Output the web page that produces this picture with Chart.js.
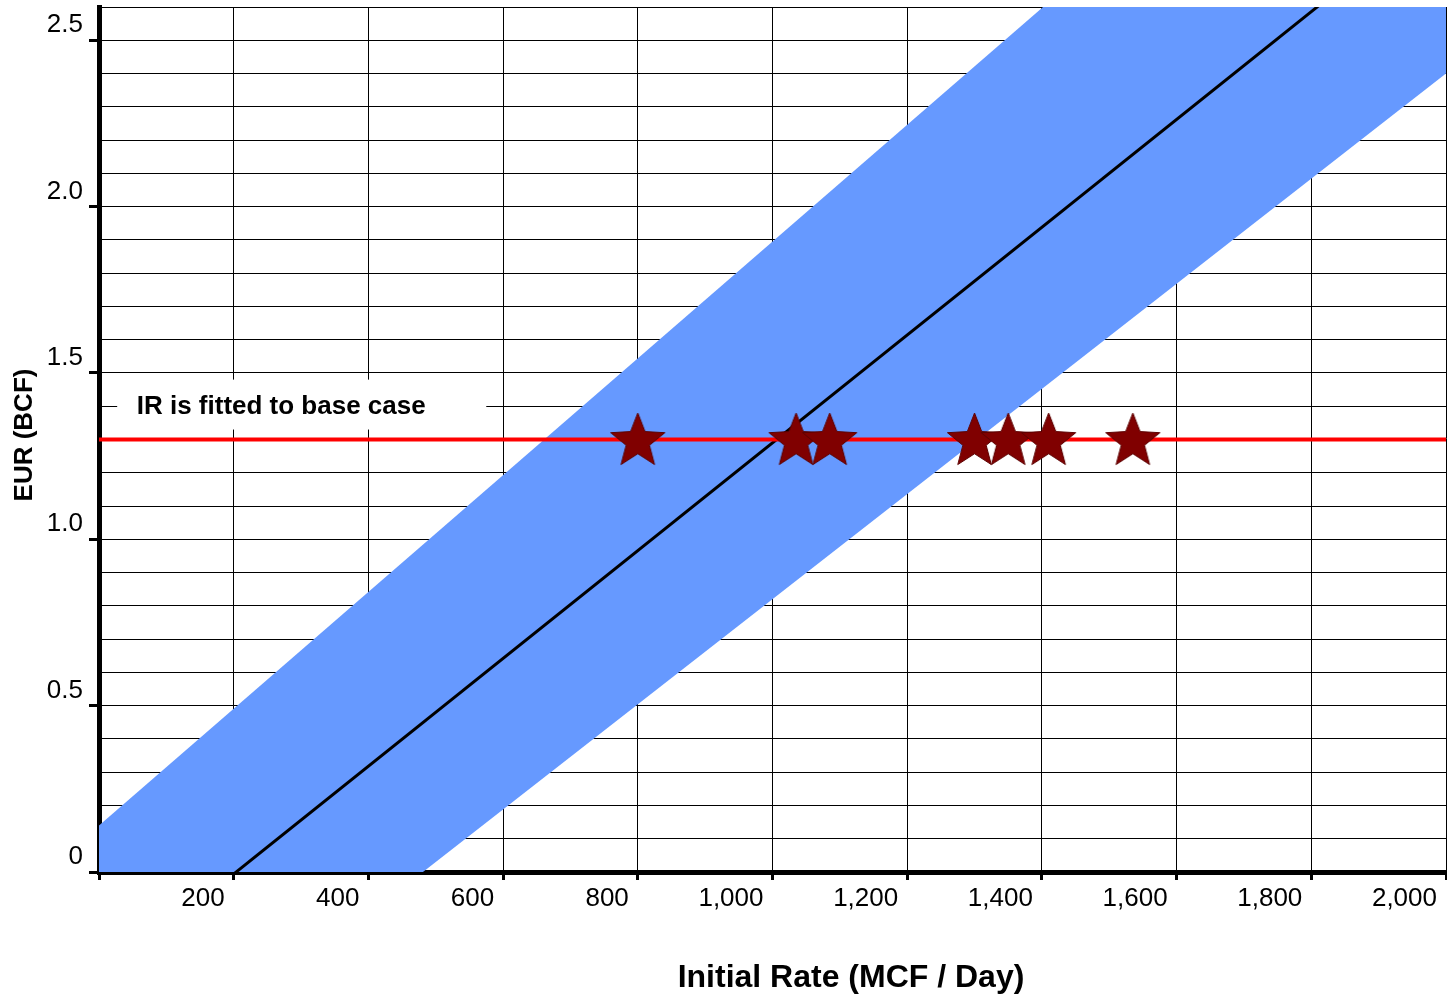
<!DOCTYPE html>
<html>
<head>
<meta charset="utf-8">
<title>EUR vs Initial Rate</title>
<script src="https://cdn.jsdelivr.net/npm/chart.js@4.4.1/dist/chart.umd.min.js"></script>
<style>
  html, body { margin: 0; padding: 0; background: #fff; }
  #wrap { position: relative; width: 1447px; height: 996px; }
</style>
</head>
<body>
<div id="wrap"><canvas id="eurChart"></canvas></div>
<script>
// band of expected EUR (upper / lower edge)
const bandRates = [0, 2000];
const bandHigh = [0.14, 3.65];
const bandLow = [-0.76, 2.40];
// fitted trend line
const trendRates = [0, 2000];
const trendEUR = [-0.33, 2.91];
// base case and wells
const baseCaseEUR = 1.3;
const wellRates = [800, 1035, 1085, 1300, 1350, 1410, 1535];
// tick labels
const xTickLabels = ['', '200', '400', '600', '800', '1,000', '1,200', '1,400', '1,600', '1,800', '2,000'];
const yTickLabels = ['0', '0.5', '1.0', '1.5', '2.0', '2.5'];

const FONT = 'Arial, "Liberation Sans", sans-serif';

function toPoints(xs, ys) {
    return xs.map((x, i) => ({ x: x, y: ys[i] }));
}

// filled five-point star used as point style
function makeStar(size, fill, stroke) {
    const c = document.createElement('canvas');
    c.width = c.height = size;
    const g = c.getContext('2d');
    const R = size / 2 - 2, r = R * 0.43;
    g.beginPath();
    for (let i = 0; i < 10; i++) {
        const rad = i % 2 ? r : R;
        const a = -Math.PI / 2 + i * Math.PI / 5;
        g.lineTo(size / 2 + rad * Math.cos(a), size / 2 + 2 + rad * Math.sin(a));
    }
    g.closePath();
    g.fillStyle = fill;
    g.fill();
    g.strokeStyle = stroke;
    g.lineWidth = 1;
    g.stroke();
    return c;
}

const starImg = makeStar(61, '#800000', '#5c0000');

const extras = {
    id: 'extras',
    beforeDatasetsDraw(chart) {
        const { ctx, scales: { x, y } } = chart;
        ctx.save();
        // white label box over the grid
        const l = x.getPixelForValue(27), r = x.getPixelForValue(575);
        const t = y.getPixelForValue(1.48), b = y.getPixelForValue(1.33);
        ctx.fillStyle = '#fff';
        ctx.fillRect(l, t, r - l, b - t);
        ctx.fillStyle = '#000';
        ctx.font = 'bold 26px ' + FONT;
        ctx.textBaseline = 'middle';
        ctx.textAlign = 'left';
        ctx.fillText('IR is fitted to base case', x.getPixelForValue(56), y.getPixelForValue(1.4) + 1);
        ctx.restore();
    },
    afterDraw(chart) {
        const ctx = chart.ctx;
        ctx.save();
        ctx.fillStyle = '#000';
        ctx.textAlign = 'center';
        ctx.textBaseline = 'middle';
        ctx.font = 'bold 32px ' + FONT;
        ctx.fillText('Initial Rate (MCF / Day)', 851, 978);
        ctx.translate(25, 435);
        ctx.rotate(-Math.PI / 2);
        ctx.font = 'bold 26px ' + FONT;
        ctx.fillText('EUR (BCF)', 0, 0);
        ctx.restore();
    }
};

function isMajorY(v) {
    return Math.round(v * 10) % 5 === 0;
}

const ctx = document.getElementById('eurChart').getContext('2d');

new Chart(ctx, {
    type: 'line',
    data: {
        datasets: [
            {
                label: 'Wells',
                data: wellRates.map(x => ({ x: x, y: baseCaseEUR })),
                showLine: false,
                pointStyle: starImg,
                pointRadius: 25
            },
            {
                label: 'Base case',
                data: toPoints([0, 2000], [baseCaseEUR, baseCaseEUR]),
                borderColor: '#ff0000',
                borderWidth: 4,
                pointRadius: 0,
                clip: 0
            },
            {
                label: 'Trend',
                data: toPoints(trendRates, trendEUR),
                borderColor: '#000',
                borderWidth: 3,
                pointRadius: 0,
                clip: 0
            },
            {
                label: 'High',
                data: toPoints(bandRates, bandHigh),
                borderWidth: 0,
                borderColor: 'rgba(0,0,0,0)',
                backgroundColor: '#6699ff',
                pointRadius: 0,
                fill: '+1',
                clip: 0
            },
            {
                label: 'Low',
                data: toPoints(bandRates, bandLow),
                borderWidth: 0,
                borderColor: 'rgba(0,0,0,0)',
                pointRadius: 0,
                fill: false,
                clip: 0
            }
        ]
    },
    options: {
        responsive: true,
        maintainAspectRatio: false,
        animation: false,
        layout: { autoPadding: false, padding: { top: 7, right: 1, left: 0, bottom: 0 } },
        plugins: {
            legend: { display: false },
            tooltip: { enabled: false }
        },
        scales: {
            x: {
                type: 'linear',
                min: 0,
                max: 2000,
                afterFit(scale) {
                    scale.height = 124;
                    scale.paddingLeft = 0;
                    scale.paddingRight = 0;
                },
                border: { display: true, color: '#000', width: 5 },
                grid: {
                    color: '#000',
                    lineWidth: 1,
                    tickLength: 8,
                    tickWidth: 3,
                    tickColor: '#000'
                },
                ticks: {
                    stepSize: 200,
                    autoSkip: false,
                    maxRotation: 0,
                    align: 'end',
                    labelOffset: -9,
                    padding: 3,
                    color: '#000',
                    font: { family: FONT, size: 26 },
                    callback: v => xTickLabels[Math.round(v / 200)]
                }
            },
            y: {
                type: 'linear',
                min: 0,
                max: 2.6,
                afterFit(scale) {
                    scale.width = 99;
                    scale.paddingTop = 0;
                    scale.paddingBottom = 0;
                },
                border: { display: true, color: '#000', width: 5 },
                grid: {
                    color: '#000',
                    lineWidth: 1,
                    tickLength: 10,
                    tickWidth: 3,
                    tickColor: c => isMajorY(c.tick.value) ? '#000' : 'rgba(0,0,0,0)'
                },
                ticks: {
                    stepSize: 0.1,
                    autoSkip: false,
                    labelOffset: -15,
                    padding: 6,
                    color: '#000',
                    font: { family: FONT, size: 26 },
                    callback: v => isMajorY(v) ? yTickLabels[Math.round(v * 2)] : ''
                }
            }
        }
    },
    plugins: [extras]
});
</script>
</body>
</html>
